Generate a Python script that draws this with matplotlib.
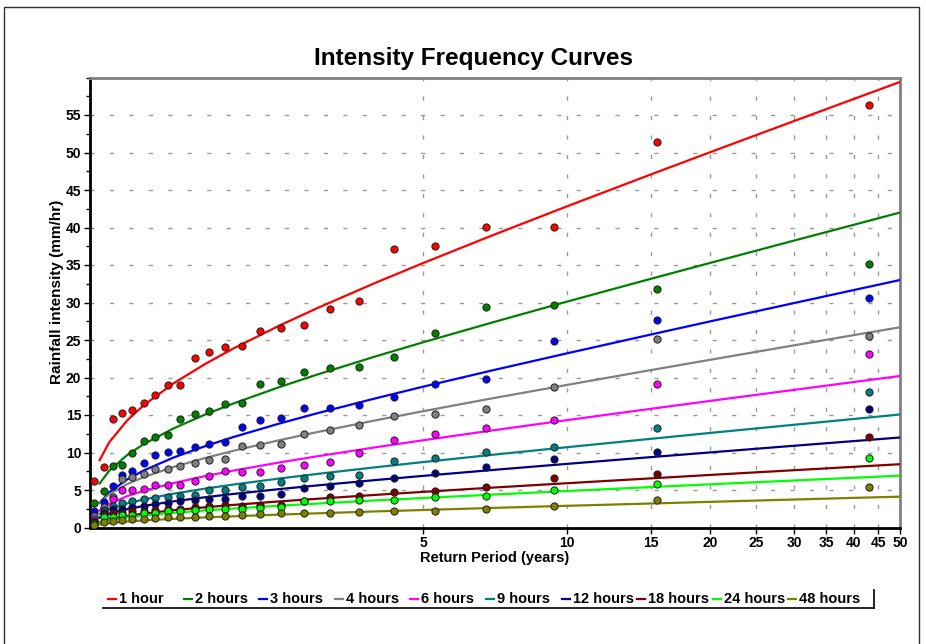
import matplotlib
matplotlib.use("Agg")
import matplotlib.pyplot as plt
from matplotlib.lines import Line2D
from matplotlib.patches import Rectangle
from matplotlib.ticker import NullLocator, MultipleLocator

plt.rcParams['font.family'] = ['Liberation Sans', 'DejaVu Sans']
plt.rcParams['lines.scale_dashes'] = False

# ---------------- data ----------------
series_names = ["1 hour", "2 hours", "3 hours", "4 hours", "6 hours",
                "9 hours", "12 hours", "18 hours", "24 hours", "48 hours"]
series_colors = ["#FF0000", "#008000", "#0000FF", "#808080", "#FF00FF",
                 "#008080", "#000080", "#800000", "#00FF00", "#808000"]

# return periods of the plotted observations (rank 1 .. 24)
obs_T = [43.07, 15.46, 9.42, 6.78, 5.29, 4.34, 3.68, 3.19, 2.82, 2.52, 2.28, 2.09,
         1.92, 1.78, 1.66, 1.55, 1.46, 1.37, 1.30, 1.23, 1.17, 1.12, 1.07, 1.02]

obs_1h = [56.4, 51.4, 40.1, 40.1, 37.6, 37.2, 30.15, 29.17, 26.99, 26.54, 26.19, 24.14,
          24.10, 23.43, 22.58, 19.02, 19.02, 17.65, 16.58, 15.69, 15.33, 14.44, 8.12, 6.25]
obs_2h = [35.18, 31.84, 29.66, 29.44, 25.97, 22.72, 21.38, 21.25, 20.67, 19.56, 19.07, 16.58,
          16.53, 15.55, 15.11, 14.49, 12.35, 12.13, 11.50, 9.90, 8.39, 8.21, 4.92, 3.32]
obs_3h = [30.59, 27.62, 24.86, 19.78, 19.16, 17.42, 16.31, 15.95, 15.95, 14.62, 14.35, 13.46,
          11.37, 11.19, 10.79, 10.17, 10.04, 9.72, 8.66, 7.59, 6.96, 5.54, 3.40, 2.25]
obs_4h = [25.56, 25.08, 18.71, 15.82, 15.11, 14.89, 13.68, 13.06, 12.44, 11.19, 11.06, 10.88,
          9.10, 8.97, 8.57, 8.21, 7.85, 7.76, 7.14, 6.70, 6.43, 4.03, 2.69, 1.54]
obs_6h = [23.16, 19.20, 14.35, 13.28, 12.44, 11.72, 9.90, 8.70, 8.39, 7.99, 7.41, 7.41,
          7.59, 6.88, 6.25, 5.72, 5.63, 5.63, 5.19, 5.01, 5.01, 3.85, 2.34, 1.18]
obs_9h = [18.09, 13.28, 10.75, 10.04, 9.28, 8.83, 7.05, 6.92, 6.56, 6.07, 5.59, 5.36,
          5.01, 5.01, 4.38, 4.21, 4.12, 3.94, 3.76, 3.49, 3.23, 2.87, 2.16, 0.91]
obs_12h = [15.82, 10.04, 9.19, 8.12, 7.23, 6.65, 5.94, 5.59, 5.23, 4.52, 4.25, 4.16,
           3.76, 3.76, 3.67, 3.49, 3.23, 3.14, 2.87, 2.78, 2.51, 2.51, 1.89, 0.73]
obs_18h = [12.08, 7.14, 6.65, 5.45, 4.92, 4.78, 4.25, 4.07, 3.58, 2.96, 2.96, 2.87,
           2.96, 2.87, 2.69, 2.51, 2.51, 2.34, 2.25, 2.16, 1.89, 1.89, 1.62, 0.65]
obs_24h = [9.32, 5.85, 4.96, 4.16, 4.12, 3.67, 3.67, 3.54, 3.54, 2.74, 2.60, 2.51,
           2.51, 2.43, 2.34, 2.25, 2.16, 1.98, 1.89, 1.71, 1.62, 1.36, 1.36, 0.47]
obs_48h = [5.45, 3.67, 2.83, 2.47, 2.25, 2.25, 2.11, 1.98, 1.98, 1.89, 1.76, 1.62,
           1.54, 1.54, 1.45, 1.36, 1.36, 1.27, 1.18, 1.09, 1.00, 0.82, 0.73, 0.29]

# fitted curves, read at these return periods
curve_T = [1.05, 1.1, 1.2, 1.3, 1.5, 1.75, 2, 2.5, 3, 4, 5, 7, 10, 15, 20, 30, 40, 50]
fit_1h = [8.97, 11.37, 14.30, 16.32, 19.22, 21.83, 23.85, 26.92, 29.24, 32.70, 35.25,
          38.97, 42.80, 47.06, 50.04, 54.20, 57.14, 59.41]
fit_2h = [5.86, 7.58, 9.68, 11.13, 13.21, 15.08, 16.52, 18.72, 20.39, 22.86, 24.69,
          27.35, 30.10, 33.15, 35.28, 38.26, 40.36, 42.00]
fit_3h = [3.28, 4.70, 6.42, 7.61, 9.33, 10.86, 12.05, 13.86, 15.23, 17.26, 18.77,
          20.96, 23.21, 25.72, 27.48, 29.93, 31.66, 33.00]
fit_4h = [3.32, 4.43, 5.79, 6.73, 8.07, 9.28, 10.22, 11.64, 12.72, 14.32, 15.50,
          17.23, 19.00, 20.98, 22.36, 24.29, 25.65, 26.70]
fit_6h = [2.29, 3.14, 4.19, 4.90, 5.93, 6.86, 7.58, 8.67, 9.49, 10.72, 11.63,
          12.95, 14.31, 15.82, 16.88, 18.35, 19.40, 20.20]
fit_9h = [1.81, 2.44, 3.21, 3.74, 4.51, 5.19, 5.72, 6.53, 7.14, 8.05, 8.72,
          9.70, 10.70, 11.82, 12.61, 13.70, 14.47, 15.07]
fit_12h = [1.32, 1.83, 2.45, 2.88, 3.49, 4.04, 4.47, 5.12, 5.61, 6.34, 6.88,
           7.67, 8.48, 9.38, 10.01, 10.90, 11.52, 12.00]
fit_18h = [0.73, 1.10, 1.55, 1.86, 2.30, 2.70, 3.01, 3.48, 3.83, 4.36, 4.75,
           5.32, 5.90, 6.55, 7.01, 7.64, 8.09, 8.44]
fit_24h = [0.69, 0.99, 1.35, 1.60, 1.96, 2.28, 2.53, 2.91, 3.19, 3.62, 3.93,
           4.39, 4.86, 5.39, 5.76, 6.27, 6.63, 6.91]
fit_48h = [0.40, 0.57, 0.79, 0.94, 1.15, 1.35, 1.49, 1.72, 1.89, 2.15, 2.33,
           2.61, 2.89, 3.20, 3.42, 3.73, 3.95, 4.11]

obs_all = [obs_1h, obs_2h, obs_3h, obs_4h, obs_6h, obs_9h, obs_12h, obs_18h, obs_24h, obs_48h]
fit_all = [fit_1h, fit_2h, fit_3h, fit_4h, fit_6h, fit_9h, fit_12h, fit_18h, fit_24h, fit_48h]

x_ticks = [5, 10, 15, 20, 25, 30, 35, 40, 45, 50]
y_ticks = [0, 5, 10, 15, 20, 25, 30, 35, 40, 45, 50, 55]

# ---------------- figure ----------------
W, H = 926, 644
fig = plt.figure(figsize=(W / 100, H / 100), dpi=100)
fig.patch.set_facecolor("white")

def fx(px):
    return px / W

def fy(py):
    return 1 - py / H

# outer frame
fig.add_artist(Rectangle((fx(4), -0.05), fx(919) - fx(4), fy(7) + 0.05,
                         transform=fig.transFigure, fill=False,
                         edgecolor="#303030", linewidth=1.0))

axl, axr, axt, axb = 89.5, 900, 77.5, 527.5
ax = fig.add_axes([fx(axl), fy(axb), (axr - axl) / W, (axb - axt) / H])

for col, fit in zip(series_colors, fit_all):
    ax.plot(curve_T, fit, color=col, lw=1.6, zorder=3, solid_joinstyle="round")
for col, obs in zip(series_colors, obs_all):
    ax.plot(obs_T, obs, linestyle="none", marker="o", markersize=5.2,
            markerfacecolor=col, markeredgecolor="#202020", markeredgewidth=0.7,
            zorder=4)

ax.set_xscale("log")
ax.set_xlim(1.0, 50)
ax.set_ylim(0, 60)
ax.set_xticks(x_ticks)
ax.set_xticklabels([str(v) for v in x_ticks])
ax.xaxis.set_minor_locator(NullLocator())
ax.set_yticks(y_ticks)
ax.set_yticklabels([str(v) for v in y_ticks])
ax.yaxis.set_minor_locator(MultipleLocator(2.5))

ax.tick_params(axis="both", which="major", labelsize=10, length=4, width=1,
               direction="out", pad=2)
ax.tick_params(axis="y", which="minor", length=3, width=1, direction="out")
for lab in ax.get_xticklabels() + ax.get_yticklabels():
    lab.set_fontweight("bold")

ax.grid(True, which="major", color="#999999", linewidth=1.0,
        linestyle=(0, (3, 11)))
ax.set_axisbelow(True)

for s in ["left", "bottom"]:
    ax.spines[s].set_color("black")
    ax.spines[s].set_linewidth(2)
for s in ["top", "right"]:
    ax.spines[s].set_color("#808080")
    ax.spines[s].set_linewidth(2)

ax.set_xlabel("Return Period (years)", fontsize=10.5, fontweight="bold", labelpad=1)
ax.set_ylabel("Rainfall intensity (mm/hr)", fontsize=11, fontweight="bold")
ax.yaxis.set_label_coords((57 - axl) / (axr - axl), (axb - 292) / (axb - axt))
ax.yaxis.label.set_verticalalignment("center")

fig.text(fx(474), fy(59), "Intensity Frequency Curves", ha="center", va="center",
         fontsize=17.5, fontweight="bold")

# legend: fixed-pitch entries, short coloured dash followed by the label
leg_x0, leg_pitch, leg_y = 108, 75.6, 599
for i, (name, col) in enumerate(zip(series_names, series_colors)):
    x0 = leg_x0 + i * leg_pitch
    fig.add_artist(Line2D([fx(x0), fx(x0 + 8)], [fy(leg_y), fy(leg_y)],
                          transform=fig.transFigure, color=col, lw=1.6))
    fig.text(fx(x0 + 11), fy(leg_y), name, ha="left", va="center",
             fontsize=10.5, fontweight="bold")
fig.add_artist(Line2D([fx(103), fx(874)], [fy(608), fy(608)],
                      transform=fig.transFigure, color="black", lw=1.2))
fig.add_artist(Line2D([fx(874), fx(874)], [fy(590), fy(608)],
                      transform=fig.transFigure, color="black", lw=1.2))

fig.savefig("out.png", dpi=100, facecolor="white")
